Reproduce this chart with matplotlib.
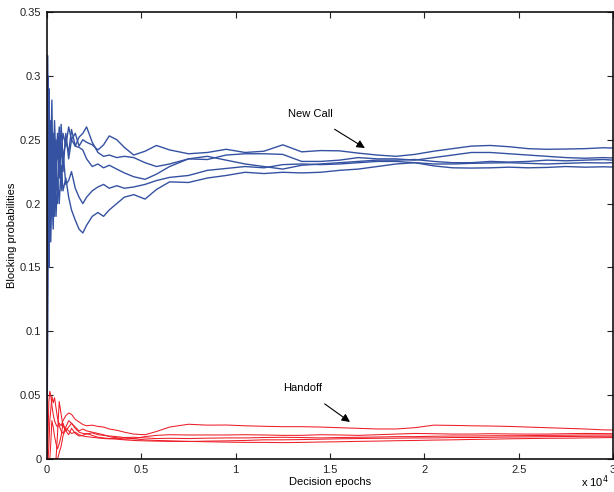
import matplotlib
matplotlib.use("Agg")
import matplotlib.pyplot as plt

plt.rcParams['font.family'] = ['Liberation Sans', 'DejaVu Sans']

# decision epochs at which the curves were read
epochs = [0, 30, 60, 100, 150, 200, 260, 330, 400, 480, 560, 650, 750, 850,
          1000, 1150, 1300, 1500, 1700, 1900, 2100, 2400, 2700, 3000, 3300,
          3700, 4100, 4600, 5200, 5800, 6500, 7500, 8500, 9500, 10500, 11500,
          12500, 13500, 14500, 15500, 16500, 17500, 18500, 19500, 20500,
          21500, 22500, 23500, 24500, 25500, 26500, 27500, 28500, 29500, 30000]

# new call blocking probabilities (5 runs)
newcall_1 = [0.0, 0.316, 0.24, 0.29, 0.21, 0.26, 0.23, 0.255, 0.215, 0.25, 0.235,
             0.26, 0.24, 0.255, 0.245, 0.26, 0.25, 0.255, 0.245, 0.25, 0.248,
             0.246, 0.242, 0.246, 0.253, 0.25, 0.244, 0.238, 0.241, 0.2455, 0.242,
             0.239, 0.24, 0.2425, 0.24, 0.241, 0.246, 0.2405, 0.2415, 0.2413,
             0.2395, 0.238, 0.237, 0.2385, 0.241, 0.243, 0.245, 0.2455, 0.2445,
             0.243, 0.2425, 0.2427, 0.243, 0.2437, 0.2435]
newcall_2 = [0.0, 0.12, 0.25, 0.2, 0.22, 0.24, 0.281, 0.2, 0.245, 0.21, 0.25,
             0.225, 0.262, 0.235, 0.25, 0.24, 0.258, 0.245, 0.252, 0.255, 0.26,
             0.248, 0.24, 0.237, 0.238, 0.236, 0.237, 0.236, 0.232, 0.229, 0.231,
             0.235, 0.2345, 0.238, 0.239, 0.239, 0.2385, 0.233, 0.233, 0.234,
             0.236, 0.235, 0.235, 0.234, 0.236, 0.238, 0.24, 0.24, 0.239, 0.238,
             0.237, 0.236, 0.2355, 0.236, 0.2357]
newcall_3 = [0.0, 0.2, 0.3, 0.17, 0.24, 0.19, 0.25, 0.22, 0.265, 0.23, 0.255,
             0.22, 0.245, 0.225, 0.255, 0.235, 0.25, 0.245, 0.244, 0.242, 0.235,
             0.229, 0.231, 0.228, 0.23, 0.227, 0.224, 0.221, 0.219, 0.223, 0.229,
             0.235, 0.237, 0.234, 0.231, 0.229, 0.227, 0.23, 0.231, 0.232, 0.233,
             0.234, 0.234, 0.2345, 0.233, 0.232, 0.232, 0.233, 0.2325, 0.233,
             0.234, 0.2335, 0.234, 0.2345, 0.234]
newcall_4 = [0.0, 0.25, 0.16, 0.23, 0.18, 0.265, 0.2, 0.24, 0.19, 0.235, 0.2,
             0.25, 0.21, 0.24, 0.215, 0.218, 0.225, 0.212, 0.205, 0.2, 0.205,
             0.21, 0.213, 0.215, 0.212, 0.214, 0.212, 0.213, 0.215, 0.218, 0.2205,
             0.222, 0.226, 0.2275, 0.229, 0.228, 0.2305, 0.231, 0.2305, 0.231,
             0.232, 0.233, 0.233, 0.232, 0.231, 0.231, 0.2315, 0.2318, 0.232,
             0.2315, 0.231, 0.2315, 0.232, 0.2318, 0.232]
newcall_5 = [0.0, 0.08, 0.19, 0.15, 0.22, 0.17, 0.21, 0.18, 0.23, 0.19, 0.22,
             0.2, 0.23, 0.21, 0.22, 0.205, 0.195, 0.187, 0.18, 0.177, 0.183,
             0.19, 0.193, 0.19, 0.195, 0.2, 0.205, 0.207, 0.2035, 0.211, 0.217,
             0.2165, 0.22, 0.222, 0.2245, 0.2235, 0.2245, 0.224, 0.2245, 0.226,
             0.227, 0.229, 0.231, 0.232, 0.2295, 0.228, 0.2278, 0.228, 0.2285,
             0.228, 0.2283, 0.229, 0.2285, 0.2288, 0.2286]

# handoff blocking probabilities (5 runs)
handoff_1 = [0.0, 0.0, 0.02, 0.045, 0.053, 0.05, 0.042, 0.035, 0.03, 0.027, 0.025,
             0.028, 0.026, 0.03, 0.034, 0.036, 0.035, 0.031, 0.029, 0.027, 0.026,
             0.0265, 0.0255, 0.025, 0.0235, 0.0225, 0.021, 0.0195, 0.019, 0.0215,
             0.025, 0.0272, 0.0265, 0.0266, 0.026, 0.0256, 0.0253, 0.0253, 0.025,
             0.0245, 0.024, 0.0235, 0.0235, 0.0245, 0.0265, 0.0263, 0.026, 0.0258,
             0.0255, 0.025, 0.0245, 0.024, 0.0235, 0.0228, 0.0227]
handoff_2 = [0.0, 0.0, 0.0, 0.01, 0.03, 0.038, 0.049, 0.044, 0.048, 0.04, 0.032,
             0.026, 0.022, 0.02, 0.025, 0.03, 0.028, 0.025, 0.022, 0.0235, 0.022,
             0.021, 0.02, 0.019, 0.0175, 0.0165, 0.0155, 0.016, 0.0175, 0.0185,
             0.019, 0.0188, 0.0188, 0.0188, 0.019, 0.0188, 0.0185, 0.0185, 0.019,
             0.0188, 0.0185, 0.019, 0.0195, 0.02, 0.0198, 0.0195, 0.0195, 0.0198,
             0.0196, 0.0195, 0.0195, 0.0198, 0.02, 0.0199, 0.0198]
handoff_3 = [0.0, 0.0, 0.0, 0.0, 0.0, 0.0, 0.0, 0.0, 0.0, 0.0, 0.02, 0.045,
             0.035, 0.026, 0.022, 0.025, 0.028, 0.024, 0.021, 0.02, 0.0195,
             0.0205, 0.019, 0.0185, 0.018, 0.0175, 0.0168, 0.017, 0.0165, 0.016,
             0.0162, 0.016, 0.0163, 0.0165, 0.0165, 0.0168, 0.017, 0.0168, 0.0165,
             0.0168, 0.017, 0.0172, 0.0175, 0.0175, 0.0178, 0.018, 0.018, 0.0182,
             0.0182, 0.0183, 0.0185, 0.0186, 0.0188, 0.0188, 0.0188]
handoff_4 = [0.0, 0.0, 0.0, 0.0, 0.0, 0.012, 0.03, 0.025, 0.018, 0.012, 0.008,
             0.012, 0.018, 0.028, 0.022, 0.019, 0.024, 0.02, 0.018, 0.0185, 0.02,
             0.0185, 0.017, 0.0165, 0.016, 0.0155, 0.015, 0.0145, 0.0142, 0.014,
             0.0138, 0.0137, 0.014, 0.0142, 0.0145, 0.015, 0.015, 0.0152, 0.0155,
             0.0158, 0.016, 0.0162, 0.0163, 0.0165, 0.0165, 0.0168, 0.0168, 0.017,
             0.0172, 0.0173, 0.0175, 0.0176, 0.0177, 0.0178, 0.0178]
handoff_5 = [0.0, 0.0, 0.0, 0.0, 0.0, 0.0, 0.0, 0.0, 0.0, 0.0, 0.0, 0.005, 0.01,
             0.018, 0.024, 0.022, 0.02, 0.021, 0.019, 0.018, 0.0175, 0.017,
             0.0165, 0.016, 0.0158, 0.0162, 0.0165, 0.0158, 0.015, 0.0145, 0.0142,
             0.0138, 0.0135, 0.0132, 0.013, 0.013, 0.0128, 0.013, 0.0133, 0.0135,
             0.0138, 0.014, 0.0143, 0.0145, 0.0148, 0.015, 0.0153, 0.0155, 0.0158,
             0.016, 0.0162, 0.0163, 0.0165, 0.0167, 0.0168]

x_ticks = [0, 5000, 10000, 15000, 20000, 25000, 30000]
x_ticklabels = ['0', '0.5', '1', '1.5', '2', '2.5', '3']
y_ticks = [0, 0.05, 0.1, 0.15, 0.2, 0.25, 0.3, 0.35]
y_ticklabels = ['0', '0.05', '0.1', '0.15', '0.2', '0.25', '0.3', '0.35']

blue = '#3552a2'
red = '#ee1d27'

fig = plt.figure(figsize=(6.14, 4.92), dpi=100)
ax = fig.add_axes([0.0765, 0.0671, 0.9218, 0.9085])

for s in [newcall_1, newcall_2, newcall_3, newcall_4, newcall_5]:
    ax.plot(epochs, s, color=blue, linewidth=1.0)
for s in [handoff_1, handoff_2, handoff_3, handoff_4, handoff_5]:
    ax.plot(epochs, s, color=red, linewidth=0.75)

ax.set_xlim(0, 30000)
ax.set_ylim(0, 0.35)
ax.set_xticks(x_ticks)
ax.set_xticklabels(x_ticklabels)
ax.set_yticks(y_ticks)
ax.set_yticklabels(y_ticklabels)
ax.tick_params(direction='in', length=4, width=0.8, top=True, right=True,
               labelsize=8, colors='#222222', pad=4)
for sp in ax.spines.values():
    sp.set_linewidth(1.2)
    sp.set_color('#111111')

ax.set_xlabel('Decision epochs', fontsize=8, labelpad=2)
ax.set_ylabel('Blocking probabilities', fontsize=8, labelpad=2)
ax.text(0.993, -0.032, r'x 10$^4$', transform=ax.transAxes, fontsize=8,
        ha='right', va='top')

ax.annotate('New Call', xy=(16850, 0.2435), xytext=(12770, 0.270),
            fontsize=8, va='center', ha='left',
            arrowprops=dict(arrowstyle='-|>', color='black', lw=0.8,
                            shrinkA=10, shrinkB=0, mutation_scale=12))
ax.annotate('Handoff', xy=(16060, 0.029), xytext=(12510, 0.0556),
            fontsize=8, va='center', ha='left',
            arrowprops=dict(arrowstyle='-|>', color='black', lw=0.8,
                            shrinkA=10, shrinkB=0, mutation_scale=12))

fig.savefig('out.png', dpi=100)
